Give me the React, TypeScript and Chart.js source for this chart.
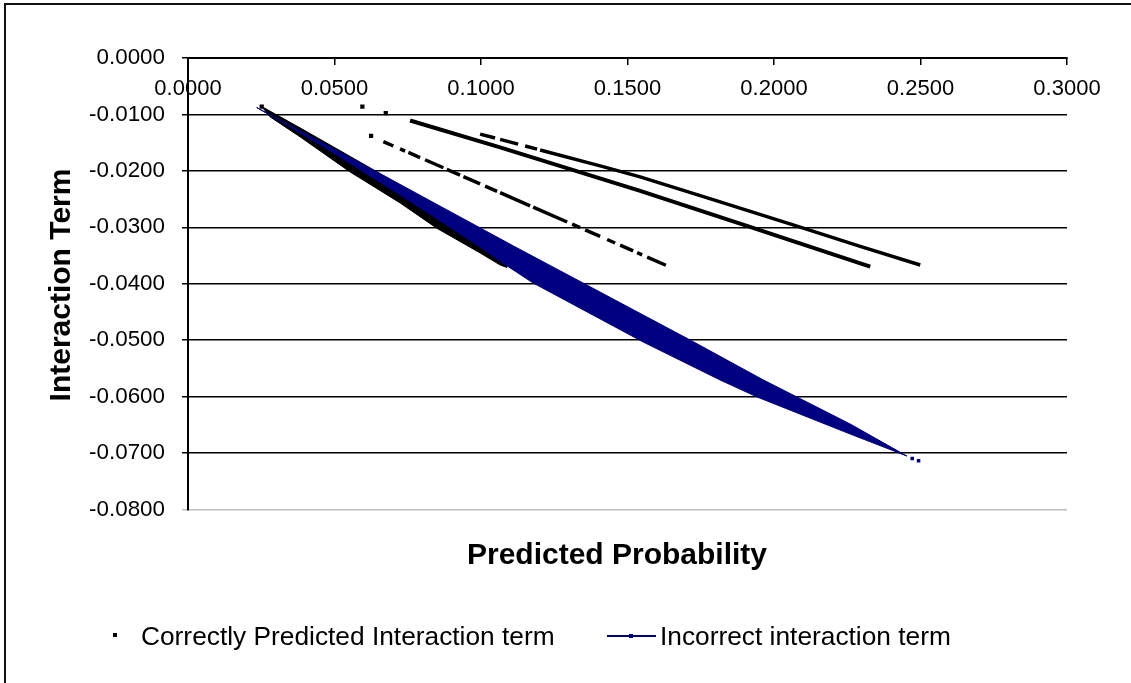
import React, { useEffect, useRef } from 'react';
import { Chart, registerables } from 'chart.js';

Chart.register(...registerables);

// ---------- axis settings ----------
const X_MIN = 0;
const X_MAX = 0.3;
const X_STEP = 0.05;
const Y_MIN = -0.08;
const Y_MAX = 0;
const Y_STEP = 0.01;
const X_TITLE = 'Predicted Probability';
const Y_TITLE = 'Interaction Term';
const SERIES_CORRECT = 'Correctly Predicted Interaction term';
const SERIES_INCORRECT = 'Incorrect interaction term';

// ---------- "Incorrect interaction term" (dense band outline) ----------
const incorrectBandX = [0.02345, 0.07238, 0.11106, 0.17139, 0.19642, 0.22601, 0.24537,
  0.22601, 0.19426, 0.18163, 0.15534, 0.11779, 0.10891, 0.09969, 0.07238, 0.04848, 0.03312, 0.02345];
const incorrectBandY = [-0.00878, -0.0224, -0.0333, -0.04997, -0.05706, -0.06486, -0.07053,
  -0.06663, -0.06007, -0.05706, -0.05032, -0.03986, -0.03684, -0.03348, -0.02426, -0.01645, -0.01167, -0.00878];
const incorrectDotsX = [0.24718, 0.24934];
const incorrectDotsY = [-0.07098, -0.07137];

// ---------- "Correctly Predicted Interaction term" ----------
// main dense cluster (outline)
const correctBandX = [0.02516, 0.03824, 0.10823, 0.10881, 0.10652, 0.09969, 0.08491, 0.07238, 0.05531, 0.03824, 0.028, 0.02516];
const correctBandY = [-0.0086, -0.01238, -0.03312, -0.03711, -0.03667, -0.03454, -0.03016, -0.02567, -0.02018, -0.01397, -0.01043, -0.0086];
// isolated points
const correctDotsX = [0.02516, 0.05951, 0.0675, 0.06248];
const correctDotsY = [-0.0086, -0.0086, -0.00977, -0.0138];
// line A (solid)
const lineAX = [0.07579, 0.10652, 0.15432, 0.19075, 0.23284];
const lineAY = [-0.01108, -0.01583, -0.02355, -0.02975, -0.03697];
// line B (dashed start), null = gap
const lineBX = [0.09969, 0.10481, null, 0.10652, 0.11267, null, 0.11506, 0.11915, null,
  0.12018, 0.14066, 0.15432, 0.18163, 0.20894, 0.22943, 0.24991];
const lineBY = [-0.01349, -0.01418, null, -0.01441, -0.01527, null, -0.0156, -0.01615, null,
  -0.01631, -0.01911, -0.02106, -0.0255, -0.02998, -0.03339, -0.03667];
// line C (dashed)
const lineCX = [0.06668, 0.07009, null, 0.07238, 0.07409, null, 0.07521, 0.07921, null, 0.08091, 0.08716, null,
  0.08832, 0.09286, null, 0.09399, 0.09969, null, 0.1014, 0.1055, null, 0.10652, 0.11676, null,
  0.11779, 0.1294, null, 0.1311, 0.13383, null, 0.13554, 0.14066, null, 0.14305, 0.14578, null,
  0.14749, 0.15193, null, 0.15329, 0.155, null, 0.15671, 0.16309];
const lineCY = [-0.0148, -0.01559, null, -0.0161, -0.01649, null, -0.01674, -0.01764, null, -0.01803, -0.01945, null,
  -0.01972, -0.02074, null, -0.02101, -0.0223, null, -0.0227, -0.02363, null, -0.02387, -0.02619, null,
  -0.02642, -0.02906, null, -0.02945, -0.03007, null, -0.03046, -0.03161, null, -0.03216, -0.03278, null,
  -0.03317, -0.03418, null, -0.03449, -0.03488, null, -0.03527, -0.03672];

const NAVY = '#000080';
const FONT = '"Liberation Sans", Arial, sans-serif';

function pts(xs: (number | null)[], ys: (number | null)[]) {
  return xs.map((x, i) => ({ x, y: ys[i] }));
}

const textPlugin = {
  id: 'customText',
  afterDraw(chart: any) {
    const ctx = chart.ctx as CanvasRenderingContext2D;
    ctx.save();
    ctx.fillStyle = '#000';
    ctx.font = `bold 30px ${FONT}`;
    ctx.textAlign = 'center';
    ctx.textBaseline = 'middle';
    ctx.fillText(X_TITLE, 617, 556);
    ctx.save();
    ctx.translate(62, 285);
    ctx.rotate(-Math.PI / 2);
    ctx.fillText(Y_TITLE, 0, 0);
    ctx.restore();

    // legend
    ctx.font = `26.3px ${FONT}`;
    ctx.textAlign = 'left';
    ctx.textBaseline = 'alphabetic';
    ctx.fillRect(113, 633, 4, 4);
    ctx.fillText(SERIES_CORRECT, 141, 645);
    ctx.strokeStyle = NAVY;
    ctx.lineWidth = 2;
    ctx.beginPath();
    ctx.moveTo(607, 636);
    ctx.lineTo(656, 636);
    ctx.stroke();
    ctx.fillStyle = NAVY;
    ctx.fillRect(629, 634, 4, 4);
    ctx.fillStyle = '#000';
    ctx.fillText(SERIES_INCORRECT, 660, 645);
    ctx.restore();
  },
};

export default function App() {
  const ref = useRef<HTMLCanvasElement | null>(null);
  useEffect(() => {
    if (!ref.current) return;
    const chart = new Chart(ref.current, {
      type: 'scatter',
      data: {
        datasets: [
          {
            label: SERIES_INCORRECT,
            data: pts(incorrectBandX, incorrectBandY),
            showLine: true,
            borderColor: NAVY,
            backgroundColor: NAVY,
            borderWidth: 1,
            pointRadius: 0,
            fill: 'shape',
            order: 0,
          },
          {
            label: SERIES_INCORRECT,
            data: pts(incorrectDotsX, incorrectDotsY),
            showLine: false,
            pointStyle: 'rect',
            pointRadius: 2.5,
            borderWidth: 0,
            backgroundColor: NAVY,
            order: 0,
          },
          {
            label: SERIES_CORRECT,
            data: pts(correctBandX, correctBandY),
            showLine: true,
            borderColor: '#000',
            backgroundColor: '#000',
            borderWidth: 1,
            pointRadius: 0,
            fill: 'shape',
            order: 1,
          },
          {
            label: SERIES_CORRECT,
            data: pts(lineAX, lineAY),
            showLine: true,
            borderColor: '#000',
            borderWidth: 4,
            pointRadius: 0,
            order: 1,
          },
          {
            label: SERIES_CORRECT,
            data: pts(lineBX, lineBY),
            showLine: true,
            borderColor: '#000',
            borderWidth: 3.5,
            pointRadius: 0,
            order: 1,
          },
          {
            label: SERIES_CORRECT,
            data: pts(lineCX, lineCY),
            showLine: true,
            borderColor: '#000',
            borderWidth: 3.5,
            pointRadius: 0,
            order: 1,
          },
          {
            label: SERIES_CORRECT,
            data: pts(correctDotsX, correctDotsY),
            showLine: false,
            pointStyle: 'rect',
            pointRadius: 3,
            borderWidth: 0,
            backgroundColor: '#000',
            order: 1,
          },
        ],
      },
      options: {
        animation: false,
        responsive: false,
        devicePixelRatio: 1,
        layout: { padding: { left: 0, top: 58, right: 64, bottom: 173.5 } },
        plugins: {
          legend: { display: false },
          tooltip: { enabled: false },
        },
        scales: {
          x: {
            type: 'linear',
            position: 'top',
            min: X_MIN,
            max: X_MAX,
            afterFit: (s: any) => { s.height = 0; },
            ticks: {
              stepSize: X_STEP,
              mirror: true,
              padding: 18,
              color: '#000',
              font: { family: FONT, size: 22 },
              callback: (v: any) => Number(v).toFixed(4),
            },
            grid: {
              drawOnChartArea: false,
              drawTicks: true,
              tickLength: -7,
              color: '#000',
              lineWidth: 1.5,
            },
            border: { display: true, color: '#000', width: 2 },
          },
          y: {
            type: 'linear',
            position: 'left',
            min: Y_MIN,
            max: Y_MAX,
            afterFit: (s: any) => { s.width = 188; },
            ticks: {
              stepSize: Y_STEP,
              padding: 17,
              color: '#000',
              font: { family: FONT, size: 22.4 },
              callback: (v: any) => Number(v).toFixed(4),
            },
            grid: {
              color: (c: any) => (c.tick && Math.abs(c.tick.value - Y_MIN) < 1e-9 ? '#c0c0c0' : '#000'),
              lineWidth: 1.5,
              tickLength: 6,
            },
            border: { display: true, color: '#000', width: 2 },
          },
        },
      },
      plugins: [textPlugin],
    } as any);
    return () => chart.destroy();
  }, []);

  return (
    <div style={{ position: 'fixed', left: 0, top: 0, width: 1131, height: 683, overflow: 'hidden', background: '#fff' }}>
      <div
        style={{
          position: 'absolute', left: 4, top: 3, width: 1400, height: 1000,
          borderLeft: '2px solid #111', borderTop: '2px solid #111', boxSizing: 'border-box',
        }}
      />
      <canvas ref={ref} width={1131} height={683} style={{ position: 'absolute', left: 0, top: 0, width: 1131, height: 683 }} />
    </div>
  );
}
